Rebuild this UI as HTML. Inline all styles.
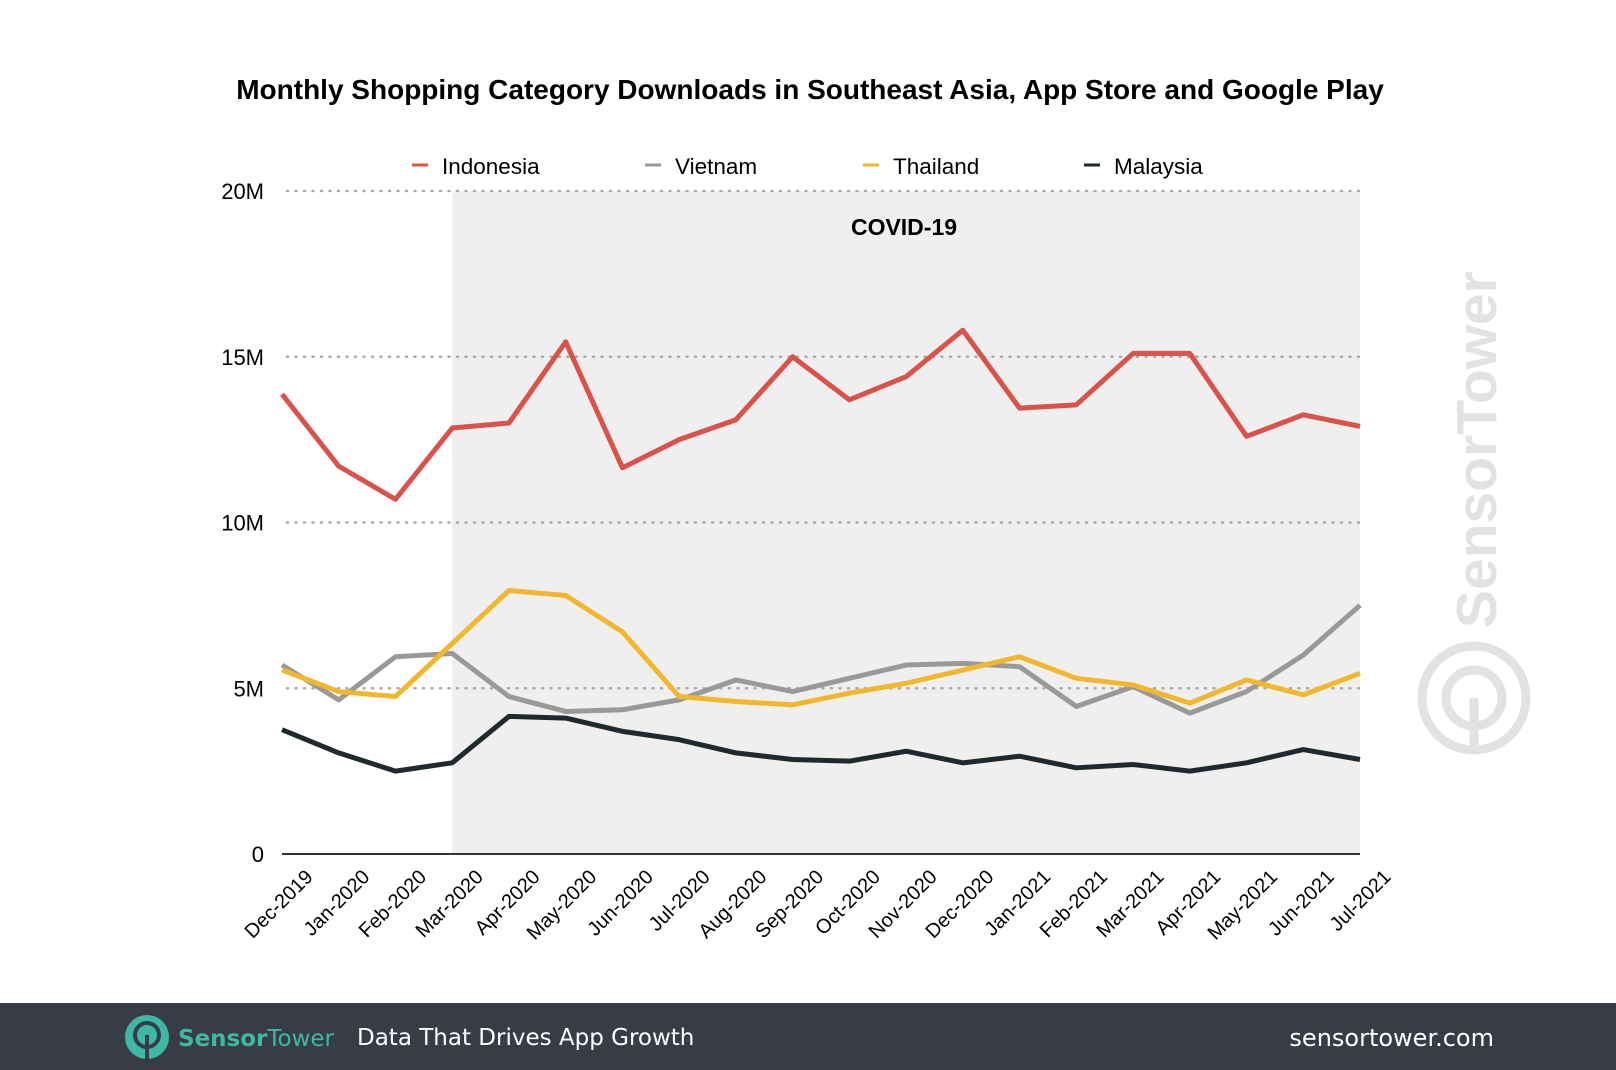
<!DOCTYPE html>
<html><head><meta charset="utf-8"><style>
body{margin:0;width:1616px;height:1070px;background:#fff;overflow:hidden;font-family:"Liberation Sans",sans-serif}
svg{display:block}
</style></head><body>
<svg width="1616" height="1070">
<text x="810" y="99" text-anchor="middle" font-size="28" font-weight="bold">Monthly Shopping Category Downloads in Southeast Asia, App Store and Google Play</text>
<rect id="covid" y="191" height="663" fill="#efefef"/>
<text x="904" y="235" text-anchor="middle" font-size="23" font-weight="bold">COVID-19</text>
<g id="grid"></g>
<g id="lines"></g>
<g id="legend"></g>
<g>
<text transform="translate(1496,628) rotate(-90)" font-size="57" font-weight="bold" fill="#e2e2e2">SensorTower</text>
<circle cx="1474" cy="698" r="52" fill="none" stroke="#e2e2e2" stroke-width="9"/>
<circle cx="1474" cy="698" r="28" fill="none" stroke="#e2e2e2" stroke-width="9"/>
<line x1="1474" y1="698" x2="1474" y2="752" stroke="#e2e2e2" stroke-width="9"/>
</g>
<rect x="0" y="1003" width="1616" height="67" fill="#383c47"/>
<g>
<circle cx="147" cy="1037" r="22" fill="#3fb7a5"/>
<circle cx="147" cy="1035" r="12" fill="none" stroke="#383c47" stroke-width="4"/>
<line x1="147" y1="1035" x2="147" y2="1059" stroke="#383c47" stroke-width="4"/>
</g>
<text x="178" y="1046" font-size="23" fill="#3fb7a5" font-family="'DejaVu Sans',sans-serif"><tspan font-weight="bold">Sensor</tspan>Tower</text>
<text x="357" y="1045" font-size="23" fill="#fff" font-family="'DejaVu Sans',sans-serif">Data That Drives App Growth</text>
<text x="1494" y="1046" font-size="24" fill="#fff" text-anchor="end" font-family="'DejaVu Sans',sans-serif">sensortower.com</text>
</svg>
<script>
const months=["Dec-2019","Jan-2020","Feb-2020","Mar-2020","Apr-2020","May-2020","Jun-2020","Jul-2020","Aug-2020","Sep-2020","Oct-2020","Nov-2020","Dec-2020","Jan-2021","Feb-2021","Mar-2021","Apr-2021","May-2021","Jun-2021","Jul-2021"];
const indonesia=[13.87,11.7,10.7,12.85,13.0,15.45,11.65,12.5,13.1,15.0,13.7,14.4,15.8,13.45,13.55,15.1,15.1,12.6,13.25,12.9];
const vietnam=[5.7,4.65,5.95,6.05,4.75,4.3,4.35,4.65,5.25,4.9,5.3,5.7,5.75,5.65,4.45,5.05,4.25,4.9,6.0,7.5];
const thailand=[5.55,4.9,4.75,6.35,7.95,7.8,6.7,4.75,4.6,4.5,4.85,5.15,5.55,5.95,5.3,5.1,4.55,5.25,4.8,5.45];
const malaysia=[3.75,3.05,2.5,2.75,4.15,4.1,3.7,3.45,3.05,2.85,2.8,3.1,2.75,2.95,2.6,2.7,2.5,2.75,3.15,2.85];
const yTicks=[0,5,10,15,20];
const yTickLabels=["0","5M","10M","15M","20M"];
const seriesNames=["Indonesia","Vietnam","Thailand","Malaysia"];
const colors=["#d9534a","#999999","#f3b72e","#1e2a2e"];
const NS="http://www.w3.org/2000/svg";
const X0=282,X1=1360,Y0=854,Y1=191;
const xs=i=>X0+(X1-X0)*i/(months.length-1);
const ys=v=>Y0-(Y0-Y1)*v/20;
function mk(t,a,p){const e=document.createElementNS(NS,t);for(const k in a)e.setAttribute(k,a[k]);p.appendChild(e);return e;}
const cov=document.getElementById('covid');cov.setAttribute('x',xs(3));cov.setAttribute('width',xs(19)-xs(3));
const grid=document.getElementById('grid');
yTicks.forEach((v,i)=>{
 if(v>0){const l=mk('line',{x1:287,x2:X1,y1:ys(v),y2:ys(v),stroke:'#aaa','stroke-width':2.5,'stroke-dasharray':'1 7.5','stroke-linecap':'round'},grid);
 
 }
 const t=mk('text',{x:264,y:ys(v)+8,'text-anchor':'end','font-size':22},grid);t.textContent=yTickLabels[i];
 
 
});
const ax=mk('line',{x1:X0,x2:X1,y1:Y0,y2:Y0,stroke:'#333','stroke-width':2},grid);


months.forEach((m,i)=>{
 const t=mk('text',{transform:`translate(${xs(i)+32},${Y0+24}) rotate(-45)`,'text-anchor':'end','font-size':20},grid);t.textContent=m;
 
 
});
const lg=document.getElementById('lines');
[indonesia,vietnam,thailand,malaysia].forEach((d,s)=>{
 const p=mk('polyline',{points:d.map((v,i)=>xs(i)+','+ys(v)).join(' '),fill:'none',stroke:colors[s],'stroke-width':5,'stroke-linejoin':'round'},lg);
 
 
});
const leg=document.getElementById('legend');
const lx=[412,645,863,1084];
seriesNames.forEach((n,s)=>{
 const g=mk('g',{},leg);
 
 
 mk('line',{x1:lx[s],x2:lx[s]+16,y1:165,y2:165,stroke:colors[s],'stroke-width':3},g);
 const t=mk('text',{x:lx[s]+30,y:174,'font-size':22.5},g);t.textContent=n;
});
</script>
</body></html>
